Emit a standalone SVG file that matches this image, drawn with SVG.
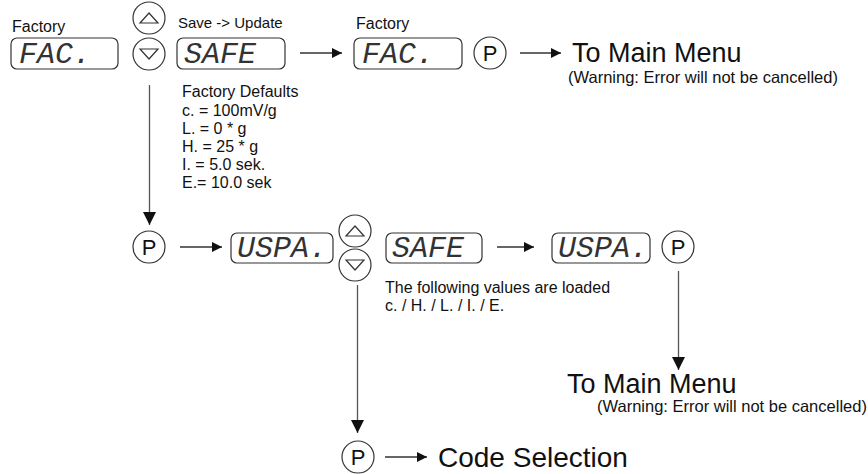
<svg xmlns="http://www.w3.org/2000/svg" width="868" height="474" viewBox="0 0 868 474">
  <defs>
    <style>
      .lbl { font-family: "Liberation Sans", Arial, sans-serif; font-size: 16px; fill: #111; }
      .warn { font-family: "Liberation Sans", Arial, sans-serif; font-size: 16.5px; fill: #111; }
      .big { font-family: "Liberation Sans", Arial, sans-serif; font-size: 27px; fill: #111; }
      .key { font-family: "Liberation Sans", Arial, sans-serif; font-size: 22px; fill: #111; text-anchor: middle; }
      .lcd { font-family: "Liberation Mono", "DejaVu Sans Mono", monospace; font-style: italic; font-size: 30px; fill: #333; }
      .box { fill: #fff; stroke: #333; stroke-width: 1.2; }
      .btn { fill: #fff; stroke: #333; stroke-width: 1.2; }
      .tri { fill: none; stroke: #333; stroke-width: 1.2; stroke-linejoin: miter; }
      .wire { fill: none; stroke: #333; stroke-width: 1.3; }
      .wire-h { marker-end: url(#ah); }
      .wire-v { stroke: #555; marker-end: url(#av); }
    </style>
    <marker id="ah" viewBox="0 0 10 10" refX="10" refY="5" markerWidth="11" markerHeight="10" markerUnits="userSpaceOnUse" orient="auto">
      <path d="M0,0 L10,5 L0,10 Z" fill="#111"/>
    </marker>
    <marker id="av" viewBox="0 0 10 10" refX="10" refY="5" markerWidth="13" markerHeight="14" markerUnits="userSpaceOnUse" orient="auto">
      <path d="M0,0 L10,5 L0,10 Z" fill="#111"/>
    </marker>
    <!-- arrow keys: circle with an outlined triangle -->
    <g id="keyUp">
      <circle cx="0" cy="0" r="16" class="btn"/>
      <path d="M-9,5 L9,5 L0,-5 Z" class="tri"/>
    </g>
    <g id="keyDown">
      <circle cx="0" cy="0" r="16" class="btn"/>
      <path d="M-9,-5 L9,-5 L0,5 Z" class="tri"/>
    </g>
    <g id="keyP">
      <circle cx="0" cy="0" r="16" class="btn"/>
      <text x="0" y="8" class="key">P</text>
    </g>
  </defs>

  <rect width="868" height="474" fill="#fff"/>

  <!-- connectors -->
  <g id="connectors">
    <line x1="300" y1="53" x2="342" y2="53" class="wire wire-h"/>
    <line x1="520" y1="53" x2="561" y2="53" class="wire wire-h"/>
    <line x1="149.5" y1="85" x2="149.5" y2="225" class="wire wire-v"/>
    <line x1="180" y1="247" x2="222" y2="247" class="wire wire-h"/>
    <line x1="497" y1="247" x2="534" y2="247" class="wire wire-h"/>
    <line x1="678.5" y1="271" x2="678.5" y2="370" class="wire wire-v"/>
    <line x1="357.5" y1="285" x2="357.5" y2="433" class="wire wire-v"/>
    <line x1="385" y1="457" x2="427" y2="457" class="wire wire-h"/>
  </g>

  <!-- top row -->
  <g id="factory-display">
    <text x="12" y="32" class="lbl">Factory</text>
    <rect x="11" y="38" width="107" height="31" rx="6" class="box"/>
    <text x="19" y="63" class="lcd">FAC.</text>
  </g>
  <g id="keys-top">
    <use href="#keyUp" x="149" y="18"/>
    <use href="#keyDown" x="149" y="54"/>
  </g>
  <g id="save-display">
    <text x="178" y="28" class="lbl" style="font-size:15px">Save -&gt; Update</text>
    <rect x="177" y="38" width="108" height="31" rx="6" class="box"/>
    <text x="184" y="63" class="lcd">SAFE</text>
  </g>
  <g id="defaults-note">
    <text class="lbl">
      <tspan x="182" y="97">Factory Defaults</tspan>
      <tspan x="182" y="115.5">c. = 100mV/g</tspan>
      <tspan x="182" y="134">L. = 0 * g</tspan>
      <tspan x="182" y="152">H. = 25 * g</tspan>
      <tspan x="182" y="170">I. = 5.0 sek.</tspan>
      <tspan x="182" y="188">E.= 10.0 sek</tspan>
    </text>
  </g>
  <g id="factory-display-2">
    <text x="356" y="29" class="lbl">Factory</text>
    <rect x="354" y="38" width="108" height="31" rx="6" class="box"/>
    <text x="362" y="63" class="lcd">FAC.</text>
  </g>
  <g id="key-p-top">
    <use href="#keyP" x="490" y="53"/>
  </g>
  <g id="main-menu-top">
    <text x="572" y="62" class="big">To Main Menu</text>
    <text x="568" y="83" class="warn">(Warning: Error will not be cancelled)</text>
  </g>

  <!-- second row -->
  <g id="key-p-left">
    <use href="#keyP" x="149" y="247"/>
  </g>
  <g id="uspa-display">
    <rect x="231" y="233" width="102" height="30" rx="6" class="box"/>
    <text x="237" y="257" class="lcd">USPA.</text>
  </g>
  <g id="keys-mid">
    <use href="#keyUp" x="355" y="231"/>
    <use href="#keyDown" x="355" y="265"/>
  </g>
  <g id="safe-display-2">
    <rect x="386" y="233" width="96" height="30" rx="6" class="box"/>
    <text x="392" y="257" class="lcd">SAFE</text>
  </g>
  <g id="loaded-note">
    <text class="lbl">
      <tspan x="385" y="293">The following values are loaded</tspan>
      <tspan x="385" y="311">c. / H. / L. / I. / E.</tspan>
    </text>
  </g>
  <g id="uspa-display-2">
    <rect x="552" y="233" width="98" height="30" rx="6" class="box"/>
    <text x="558" y="257" class="lcd">USPA.</text>
  </g>
  <g id="key-p-right">
    <use href="#keyP" x="678" y="247"/>
  </g>
  <g id="main-menu-bottom">
    <text x="567" y="393" class="big">To Main Menu</text>
    <text x="597" y="412" class="warn">(Warning: Error will not be cancelled)</text>
  </g>

  <!-- bottom -->
  <g id="key-p-bottom">
    <use href="#keyP" x="358" y="457"/>
  </g>
  <g id="code-selection">
    <text x="438" y="467" class="big" style="font-size:28px">Code Selection</text>
  </g>
</svg>
